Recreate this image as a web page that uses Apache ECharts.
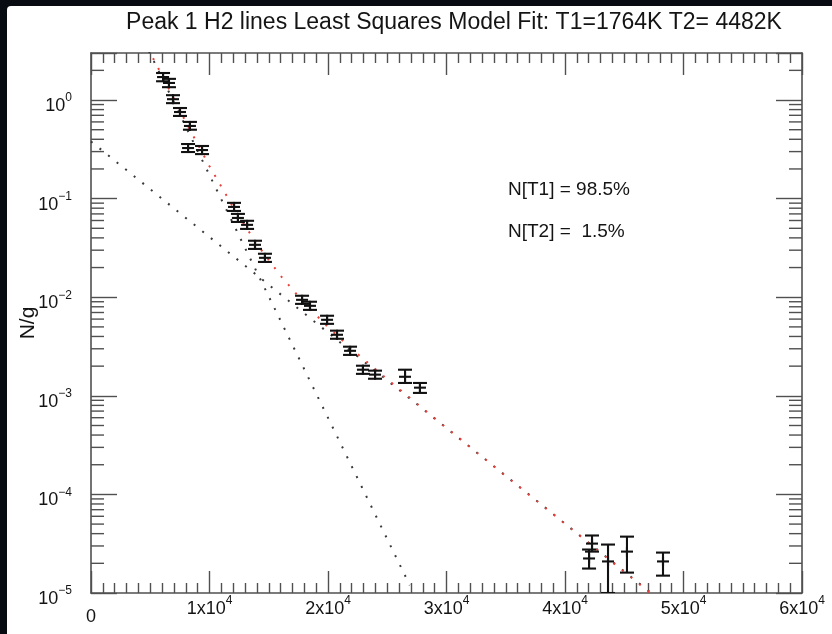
<!DOCTYPE html>
<html>
<head>
<meta charset="utf-8">
<script src="https://cdn.jsdelivr.net/npm/echarts@6/dist/echarts.min.js"></script>
<style>
  html, body { margin: 0; padding: 0; background: #090b12; }
  #wrap { position: relative; width: 832px; height: 634px; overflow: hidden; background: #090b12; }
  #card { position: absolute; left: 7px; top: 6px; right: 0; bottom: 0; background: #ffffff; border-top-left-radius: 4px; }
  #chart { position: absolute; left: 0; top: 0; width: 832px; height: 634px; }
</style>
</head>
<body>
<div id="wrap"><div id="card"></div><div id="chart"></div></div>
<script>
// Upper-level energies (K) and column densities N/g of the H2 lines, with error bounds
const energy = [6080, 6580, 6920, 7510, 8350, 8190, 9370, 12070, 12400, 13170, 13840, 14680,
                17810, 18480, 19920, 20760, 21860, 22950, 23970, 26500, 27760,
                42280, 42030, 43630, 45230, 48270];
const colDensity = [1.71, 1.49, 1.02, 0.756, 0.546, 0.326, 0.311, 0.0824, 0.0637, 0.0542, 0.0340, 0.0251,
                    9.41e-3, 8.18e-3, 5.90e-3, 4.16e-3, 2.86e-3, 1.84e-3, 1.64e-3, 1.56e-3, 1.21e-3,
                    3.17e-5, 2.24e-5, 2.09e-5, 2.63e-5, 2.09e-5];
const errLow = [1.55, 1.35, 0.93, 0.69, 0.50, 0.297, 0.283, 0.075, 0.058, 0.0493, 0.0309, 0.0228,
                8.56e-3, 7.44e-3, 5.37e-3, 3.79e-3, 2.60e-3, 1.67e-3, 1.49e-3, 1.35e-3, 1.07e-3,
                2.63e-5, 1.77e-5, 1.0e-5, 1.61e-5, 1.50e-5];
const errHigh = [1.88, 1.64, 1.12, 0.83, 0.60, 0.358, 0.342, 0.0906, 0.070, 0.0596, 0.0374, 0.0276,
                 1.035e-2, 9.0e-3, 6.49e-3, 4.58e-3, 3.15e-3, 2.02e-3, 1.80e-3, 1.84e-3, 1.35e-3,
                 3.83e-5, 2.76e-5, 3.10e-5, 3.73e-5, 2.57e-5];

// Two-temperature model: total fit (red) and its two components (black)
const fitEnergy = [5000, 6000, 8000, 10000, 12000, 14000, 16000, 18000, 20000, 22000, 25000, 30000, 35000, 40000, 47200];
const fitTotal  = [3.0, 1.77, 0.60, 0.213, 0.0817, 0.0346, 0.0165, 8.7e-3, 4.98e-3, 2.99e-3, 1.47e-3, 4.73e-4, 1.54e-4, 5.05e-5, 1.0e-5];
const compT1Energy = [0, 26900];
const compT1 = [50, 1.2e-5];
const compT2Energy = [0, 47260];
const compT2 = [0.38, 1.0e-5];

// Axis ranges and labels
const xTicks = [0, 10000, 20000, 30000, 40000, 50000, 60000];
const xMin = 0, xMax = 60000;
const yMin = 1e-5, yMax = 3;
const titleText = 'Peak 1 H2 lines Least Squares Model Fit: T1=1764K T2= 4482K';
const yName = 'N/g';
const noteLines = ['N[T1] = 98.5%', 'N[T2] =  1.5%'];

const FONT = '"Liberation Sans", Arial, Helvetica, sans-serif';
const AXIS_COLOR = '#505050';
const TEXT_COLOR = '#141414';

// Log-axis minor tick values (2..9 within each decade)
const minorVals = [];
for (let d = -5; d <= 0; d++) {
  for (let m = 2; m <= 9; m++) {
    const v = m * Math.pow(10, d);
    if (v < yMax) minorVals.push([xMin, v]);
  }
}

const rich = {
  b: { fontSize: 18, lineHeight: 28, color: TEXT_COLOR, fontFamily: FONT },
  s: { fontSize: 12, lineHeight: 12, verticalAlign: 'top', color: TEXT_COLOR, fontFamily: FONT },
  z: { fontSize: 18, lineHeight: 44, color: TEXT_COLOR, fontFamily: FONT }
};

function xLabel(v) {
  if (v === 0) return '{z|0}';
  return '{b|' + Math.round(v / 10000) + 'x10}{s|4}';
}
function yLabel(v) {
  const e = Math.log10(v);
  const r = Math.round(e);
  if (Math.abs(e - r) > 1e-6) return '';
  return '{b|10}{s|' + (r < 0 ? '\u2212' + (-r) : r) + '}';
}

const xAxisBase = {
  type: 'value', min: xMin, max: xMax, interval: 10000,
  axisLine: { show: true, onZero: false, lineStyle: { color: AXIS_COLOR, width: 1.6 } },
  axisTick: { show: true, inside: true, length: 22, lineStyle: { color: AXIS_COLOR, width: 1.4 } },
  minorTick: { show: true, splitNumber: 10, length: 10, lineStyle: { color: AXIS_COLOR, width: 1.4 } },
  splitLine: { show: false }, minorSplitLine: { show: false }
};
const yAxisBase = {
  type: 'log', logBase: 10, min: yMin, max: yMax,
  axisLine: { show: true, onZero: false, lineStyle: { color: AXIS_COLOR, width: 1.6 } },
  axisTick: { show: true, inside: true, length: 26, lineStyle: { color: AXIS_COLOR, width: 1.4 } },
  splitLine: { show: false }, minorSplitLine: { show: false }
};

const chart = echarts.init(document.getElementById('chart'), null, { renderer: 'canvas' });

chart.setOption({
  backgroundColor: 'transparent',
  animation: false,
  title: {
    text: titleText, left: 449, top: 6, textAlign: 'center',
    textStyle: { fontSize: 23, fontWeight: 'normal', color: TEXT_COLOR, fontFamily: FONT }
  },
  grid: { left: 91, right: 30, top: 53, bottom: 41, containLabel: false },
  xAxis: [
    Object.assign({}, xAxisBase, {
      position: 'bottom',
      axisLabel: { show: true, margin: 2, formatter: xLabel, rich: rich, customValues: xTicks }
    }),
    Object.assign({}, xAxisBase, { position: 'top', axisLabel: { show: false } })
  ],
  yAxis: [
    Object.assign({}, yAxisBase, {
      position: 'left',
      name: yName, nameLocation: 'middle', nameGap: 52, nameRotate: 90, nameMoveOverlap: false,
      nameTextStyle: { fontSize: 21, color: TEXT_COLOR, fontFamily: FONT },
      axisLabel: { show: true, margin: 19, formatter: yLabel, rich: rich, padding: [12, 0, 0, 0] }
    }),
    Object.assign({}, yAxisBase, { position: 'right', axisLabel: { show: false } })
  ],
  graphic: noteLines.map((t, i) => ({
    type: 'text', x: 508, y: 190 + i * 42,
    style: { text: t, fontSize: 19, fill: TEXT_COLOR, fontFamily: FONT, verticalAlign: 'middle', align: 'left' }
  })),
  series: [
    {
      // log minor ticks on the left and right frame
      type: 'custom', xAxisIndex: 0, yAxisIndex: 0, silent: true, clip: false, z: 3,
      data: minorVals,
      renderItem: function (params, api) {
        const v = api.value(1);
        const pl = api.coord([xMin, v]);
        const pr = api.coord([xMax, v]);
        const st = { stroke: AXIS_COLOR, lineWidth: 1.4 };
        return {
          type: 'group', children: [
            { type: 'line', shape: { x1: pl[0], y1: pl[1], x2: pl[0] + 13, y2: pl[1] }, style: st },
            { type: 'line', shape: { x1: pr[0] - 13, y1: pr[1], x2: pr[0], y2: pr[1] }, style: st }
          ]
        };
      }
    },
    {
      name: 'T1 component', type: 'line', symbol: 'none', clip: true, z: 2,
      data: compT1Energy.map((e, i) => [e, compT1[i]]),
      lineStyle: { color: '#3a3a3a', width: 2, type: [2, 9] }
    },
    {
      name: 'T2 component', type: 'line', symbol: 'none', clip: true, z: 2,
      data: compT2Energy.map((e, i) => [e, compT2[i]]),
      lineStyle: { color: '#3a3a3a', width: 2, type: [2, 9] }
    },
    {
      name: 'Total fit', type: 'line', symbol: 'none', clip: true, z: 2,
      data: fitEnergy.map((e, i) => [e, fitTotal[i]]),
      lineStyle: { color: '#e8403a', width: 2, type: [2, 9], dashOffset: 5 }
    },
    {
      name: 'Data', type: 'custom', clip: true, z: 4,
      data: energy.map((e, i) => [e, colDensity[i], errLow[i], errHigh[i]]),
      encode: { x: 0, y: [1, 2, 3] },
      renderItem: function (params, api) {
        const e = api.value(0);
        const c = api.coord([e, api.value(1)]);
        const lo = api.coord([e, api.value(2)]);
        const hi = api.coord([e, api.value(3)]);
        const st = { stroke: '#111111', lineWidth: 2.1 };
        const cap = 7;
        return {
          type: 'group', children: [
            { type: 'line', shape: { x1: c[0], y1: hi[1], x2: c[0], y2: lo[1] }, style: st },
            { type: 'line', shape: { x1: c[0] - cap, y1: hi[1], x2: c[0] + cap, y2: hi[1] }, style: st },
            { type: 'line', shape: { x1: c[0] - cap, y1: lo[1], x2: c[0] + cap, y2: lo[1] }, style: st },
            { type: 'line', shape: { x1: c[0] - 6, y1: c[1], x2: c[0] + 6, y2: c[1] }, style: st },
            { type: 'line', shape: { x1: c[0], y1: c[1] - 5, x2: c[0], y2: c[1] + 5 }, style: st }
          ]
        };
      }
    }
  ]
});
</script>
</body>
</html>
